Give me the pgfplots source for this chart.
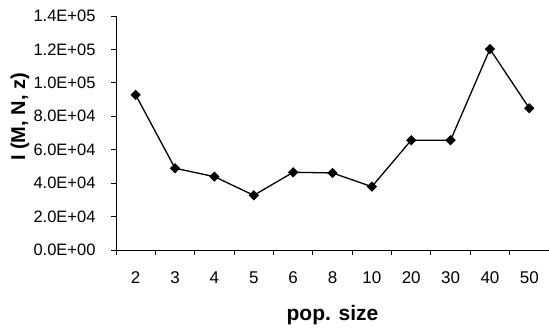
\documentclass[border=0pt]{standalone}
\usepackage{fontspec}
\setmainfont{Liberation Sans}
\usepackage{pgfplots}
\pgfplotsset{compat=1.18}
\begin{document}
\begin{tikzpicture}
\begin{axis}[
  scale only axis,
  width=433pt, height=234pt,
  xmin=-0.5, xmax=10.5,
  ymin=0, ymax=140000,
  axis x line*=bottom, axis y line*=left,
  axis line style={-, line width=0.9pt},
  xtick={0,...,10},
  xticklabels={2,3,4,5,6,8,10,20,30,40,50},
  minor xtick={-0.5,0.5,...,9.5},
  major x tick style={draw=none},
  minor x tick style={line width=0.9pt, black},
  ytick={0,20000,...,140000},
  yticklabels={0.0E+00,2.0E+04,4.0E+04,6.0E+04,8.0E+04,1.0E+05,1.2E+05,1.4E+05},
  major y tick style={line width=0.9pt, black},
  tick align=outside,
  major tick length=5pt, minor tick length=5pt,
  xticklabel style={font=\fontsize{17}{20}\selectfont, yshift=-13pt},
  yticklabel style={font=\fontsize{16.5}{19}\selectfont, xshift=-12pt},
  scaled y ticks=false,
  clip=false,
  xlabel={\textbf{pop. size}},
  xlabel style={font=\fontsize{21}{25}\selectfont, at={(axis description cs:0.5,0)}, anchor=center, yshift=-65pt},
  ylabel={\textbf{I (M, N, z)}},
  ylabel style={font=\fontsize{20}{24}\selectfont, at={(axis description cs:-0.2217,0.568)}, anchor=center},
]
\addplot[black, line width=1.3pt, mark=square*, mark size=3pt, mark options={rotate=45, solid, fill=black}]
  coordinates {
  (0,92800) (1,48900) (2,43900) (3,32700) (4,46500) (5,46100)
  (6,37900) (7,65700) (8,65700) (9,120200) (10,84800)
  };
\end{axis}
\pgfresetboundingbox
\useasboundingbox (-116pt,-83pt) rectangle (433pt,250pt);
\end{tikzpicture}
\end{document}
